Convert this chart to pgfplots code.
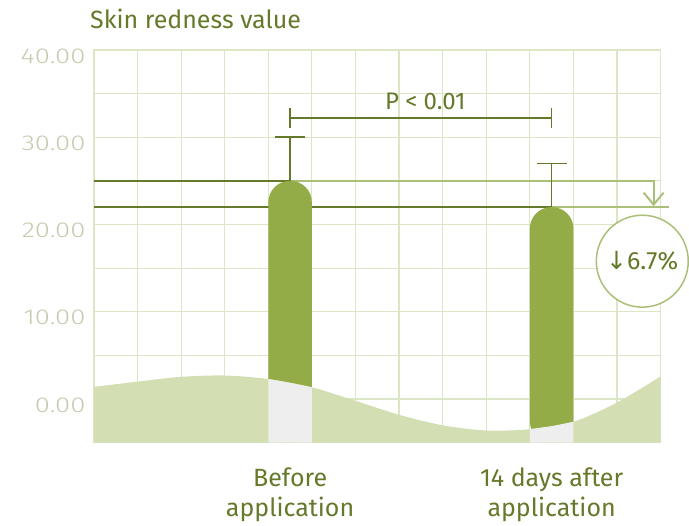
\documentclass[border=0pt]{standalone}
\usepackage{pgfplots}
\pgfplotsset{compat=1.18}
\usepackage{fontspec}
\setmainfont{Fira Sans}
\newfontfamily\lightfont{Fira Sans Light}[FakeStretch=1.28]
\newfontfamily\symfont{DejaVu Sans}
\usetikzlibrary{arrows.meta,calc}
\definecolor{darkc}{HTML}{65792A}
\definecolor{barc}{HTML}{94AC47}
\definecolor{areac}{HTML}{D3DFB3}
\definecolor{grayc}{HTML}{EEEEEE}
\definecolor{gridc}{HTML}{DCE5C5}
\definecolor{lightc}{HTML}{AABF78}
\definecolor{tickc}{HTML}{C4CBAE}
\begin{document}
\begin{tikzpicture}
\begin{axis}[
  name=ax,
  scale only axis,
  width=567pt, height=393pt,
  xmin=0, xmax=13, ymin=-5, ymax=40,
  clip=false,
  axis line style={gridc, line width=1.2pt},
  grid=both,
  major grid style={gridc, line width=1.2pt},
  minor grid style={gridc, line width=1.2pt},
  major tick length=0pt, minor tick length=0pt,
  xtick={0,...,13}, xticklabels={},
  extra x ticks={4.5,10.5},
  extra x tick labels={Before\\application, 14 days after\\application},
  extra x tick style={grid=none, xticklabel style={align=center, text=darkc, font=\fontsize{25}{30}\selectfont, yshift=-22pt}},
  ytick={0,10,20,30,40},
  minor ytick={5,15,25,35},
  yticklabel style={/pgf/number format/.cd, fixed, fixed zerofill, precision=2, /tikz/.cd, text=tickc, font=\lightfont\fontsize{21.5}{24}\selectfont, xshift=-5pt, yshift=-6pt},
  /pgf/number format/assume math mode=true,
]
% reference lines (behind bars)
\addplot[darkc, line width=1.5pt] coordinates {(0,25) (4.5,25)};
\addplot[darkc, line width=1.5pt] coordinates {(0,22) (10.5,22)};
\addplot[lightc, line width=2pt] coordinates {(10.5,22) (13.2,22)};
\addplot[lightc, line width=2pt, -{Straight Barb[length=12pt, width=20pt, line width=2pt]}] coordinates {(4.5,25) (12.84,25) (12.84,22.1)};
% bars
\addplot[fill=barc, draw=none, rounded corners=21.5pt] coordinates {(4,-5) (4,25) (5,25) (5,-5)} -- cycle;
\addplot[fill=barc, draw=none, rounded corners=21.5pt] coordinates {(10,-5) (10,22) (11,22) (11,-5)} -- cycle;
% wave area
\addplot[fill=areac, draw=none, smooth] coordinates {(0,1.4) (1,2.0) (2,2.55) (3,2.7) (4,2.3) (5,1.35) (6,-0.2) (7,-1.8) (8,-3.0) (9,-3.6) (10,-3.45) (11,-2.6) (12,-0.4) (13,2.6)} -- (axis cs:13,-5) -- (axis cs:0,-5) -- cycle;
\addplot[fill=grayc, draw=none] coordinates {(4,-5) (4,2.3) (4.5,1.85) (5,1.35) (5,-5)} -- cycle;
\addplot[fill=grayc, draw=none] coordinates {(10,-5) (10,-3.45) (10.5,-3.1) (11,-2.6) (11,-5)} -- cycle;
% error bars
\addplot[draw=none, mark=none, forget plot,
  error bars/.cd, y dir=plus, y explicit,
  error bar style={darkc, line width=1.6pt},
  error mark options={darkc, rotate=90, mark size=15pt, line width=1.6pt}]
  coordinates {(4.5,25) +- (0,5) (10.5,22) +- (0,5)};
% significance bracket
\addplot[darkc, line width=1.5pt] coordinates {(4.5,32.2) (10.5,32.2)};
\addplot[darkc, line width=1.5pt] coordinates {(4.5,31.1) (4.5,33.3)};
\addplot[darkc, line width=1.5pt] coordinates {(10.5,31.1) (10.5,33.3)};
\node[text=darkc, font=\fontsize{24}{28}\selectfont] at (axis cs:7.6,34.1) {P < 0.01};
\node[circle, draw=lightc, line width=1.5pt, fill=white, minimum size=92pt, inner sep=0pt, text=darkc, font=\fontsize{25}{28}\selectfont] at (axis cs:12.58,15.8) {{\symfont\fontsize{25}{28}\selectfont↓}6.7\%};
\node[anchor=west, text=darkc, font=\fontsize{25}{30}\selectfont, inner sep=0pt] at (rel axis cs:0,1) [xshift=-4pt, yshift=31pt] {Skin redness value};
\end{axis}
\path ($(ax.south west)+(-94pt,-78pt)$) rectangle ($(ax.north east)+(28pt,50pt)$);
\end{tikzpicture}
\end{document}
